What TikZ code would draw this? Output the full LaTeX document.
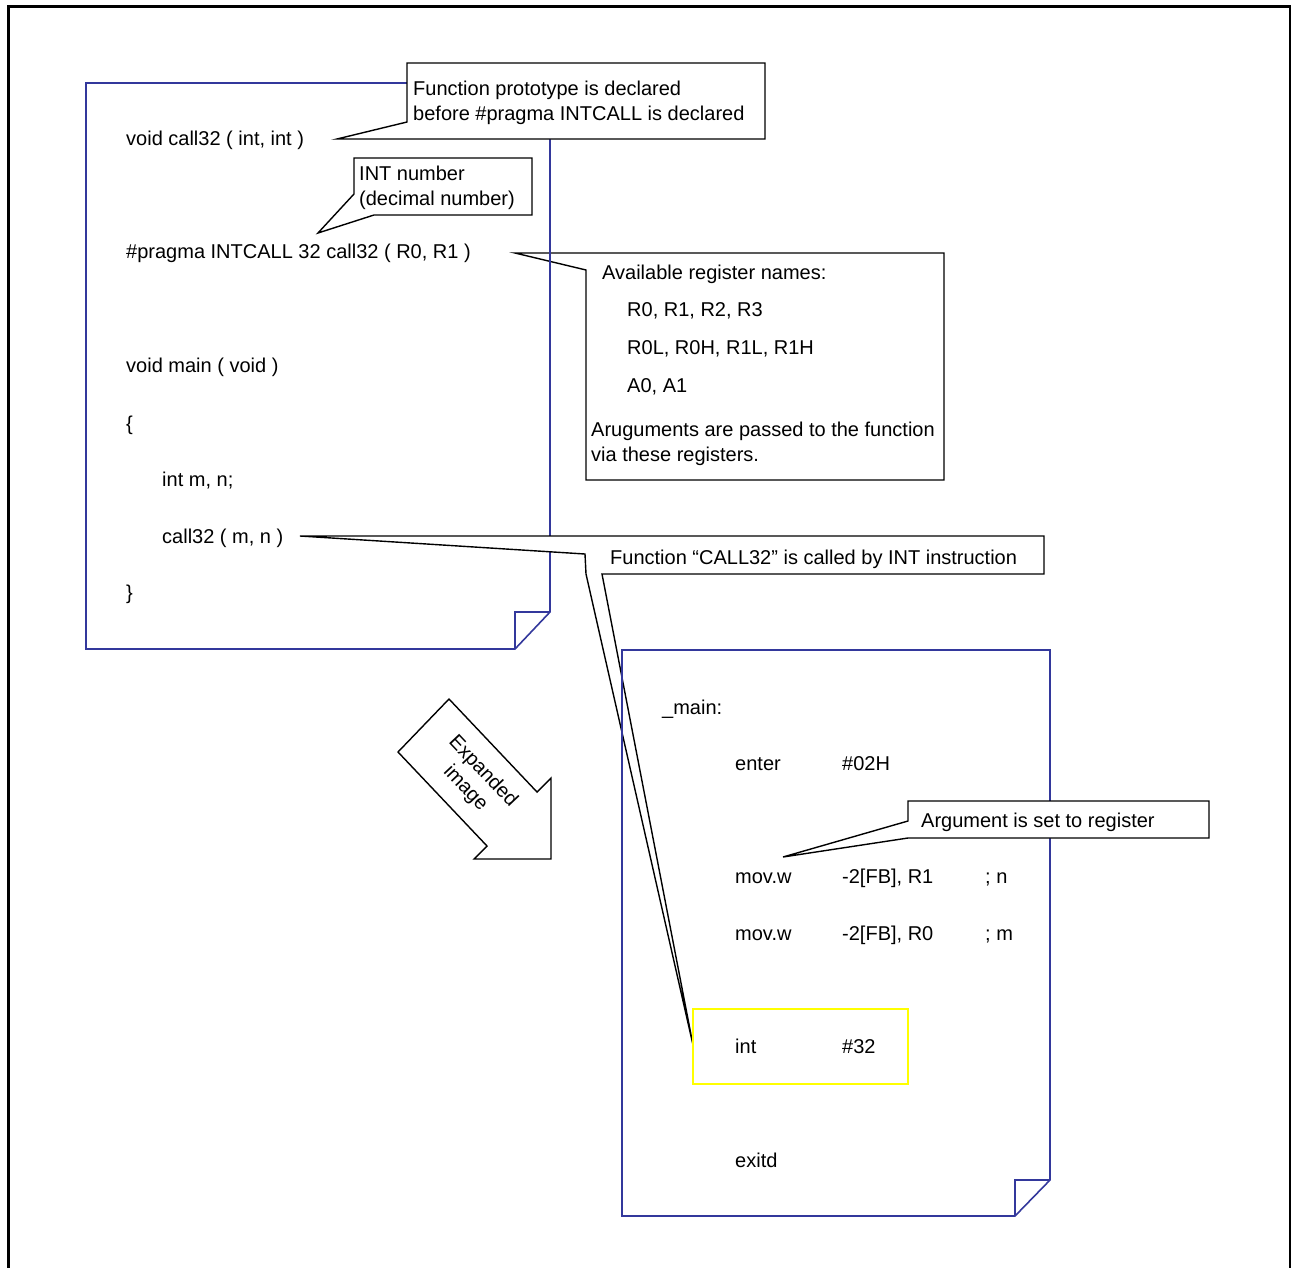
\documentclass[tikz,border=0pt]{standalone}
\usepackage{fontspec}
\setmainfont{Liberation Sans}
\definecolor{pageblue}{RGB}{51,56,156}
\definecolor{hiyellow}{RGB}{255,255,0}
\begin{document}
\begin{tikzpicture}[x=1pt,y=-1pt,
  txt/.style={anchor=base west, inner sep=0pt, font=\fontsize{20}{25}\selectfont},
  callout/.style={draw=black, line width=1.4pt, fill=white, line join=miter},
  pageline/.style={draw=pageblue, line width=1.6pt, line join=miter},
  frame/.style={draw=black, line width=3pt}]
\useasboundingbox (0,0) rectangle (1291,1267);
\draw[frame] (8,1275) -- (8,6) -- (1290,6) -- (1290,1275);

% register callout
\coordinate (tipReg) at (515,253);
\draw[callout] (tipReg) -- (944,253) -- (944,480) -- (586,480) -- (586,270) -- cycle;

% source page
\draw[pageline] (86,83) -- (550,83) -- (550,612) -- (515,649) -- (86,649) -- cycle;
\draw[pageline] (550,612) -- (515,612) -- (515,649);

% prototype callout
\coordinate (tipProto) at (337,139);
\draw[callout] (407,63) -- (765,63) -- (765,139) -- (407,139) -- (tipProto) -- (407,122) -- cycle;

% INT number callout
\coordinate (tipInt) at (318,233);
\draw[callout] (354,158) -- (532,158) -- (532,215) -- (374,215) -- (tipInt) -- (354,194) -- cycle;

% CALL32 callout
\coordinate (tipCall) at (300,536);
\coordinate (tipIntInstr) at (693,1045);
\draw[callout] (tipCall) -- (1044,536) -- (1044,574) -- (602,574) -- (tipIntInstr) -- (586,574) -- (585,554) -- cycle;

% assembly page
\draw[pageline] (622,650) -- (1050,650) -- (1050,1180) -- (1015,1216) -- (622,1216) -- cycle;
\draw[pageline] (1050,1180) -- (1015,1180) -- (1015,1216);

% highlight box
\draw[draw=hiyellow, line width=2pt] (693,1009) rectangle (908,1084);

% argument callout
\coordinate (tipArg) at (783,857);
\draw[callout] (908,801) -- (1209,801) -- (1209,838) -- (908,838) -- (tipArg) -- (908,821) -- cycle;

% expanded arrow
\draw[line width=1.4pt, fill=white, line join=miter] (449,699) -- (537,792) -- (551,778) -- (551,859) -- (474,859) -- (487,846) -- (398,752) -- cycle;
\node[inner sep=0pt, align=center, rotate=-46.6, font=\fontsize{20}{24}\selectfont] (expanded) at (474,780) {Expanded\\image};

% source text
\node[txt] (s1) at (126,145) {void call32 ( int, int )};
\node[txt] (s2) at (126,258) {\#pragma INTCALL 32 call32 ( R0, R1 )};
\node[txt] (s3) at (126,372) {void main ( void )};
\node[txt] (s4) at (126,430) {\{};
\node[txt] (s5) at (162,486) {int m, n;};
\node[txt] (s6) at (162,543) {call32 ( m, n )};
\node[txt] (s7) at (126,599) {\}};

% callout texts
\node[txt] (c1a) at (413,95) {Function prototype is declared};
\node[txt] (c1b) at (413,120) {before \#pragma INTCALL is declared};
\node[txt] (c2a) at (359,180) {INT number};
\node[txt] (c2b) at (359,205) {(decimal number)};
\node[txt] (c3a) at (602,279) {Available register names:};
\node[txt] (c3b) at (627,316) {R0, R1, R2, R3};
\node[txt] (c3c) at (627,354) {R0L, R0H, R1L, R1H};
\node[txt] (c3d) at (627,392) {A0, A1};
\node[txt] (c3e) at (591,436) {Aruguments are passed to the function};
\node[txt] (c3f) at (591,461) {via these registers.};
\node[txt] (c4) at (610,564) {Function “CALL32” is called by INT instruction};
\node[txt] (c5) at (921,827) {Argument is set to register};

% assembly text
\node[txt] (a0) at (662,714) {\_main:};
\node[txt] (a1) at (735,770) {enter};
\node[txt] (a1b) at (842,770) {\#02H};
\node[txt] (a2) at (735,883) {mov.w};
\node[txt] (a2b) at (842,883) {-2[FB], R1};
\node[txt] (a2c) at (985,883) {; n};
\node[txt] (a3) at (735,940) {mov.w};
\node[txt] (a3b) at (842,940) {-2[FB], R0};
\node[txt] (a3c) at (985,940) {; m};
\node[txt] (a4) at (735,1053) {int};
\node[txt] (a4b) at (842,1053) {\#32};
\node[txt] (a5) at (735,1167) {exitd};
\end{tikzpicture}
\end{document}
